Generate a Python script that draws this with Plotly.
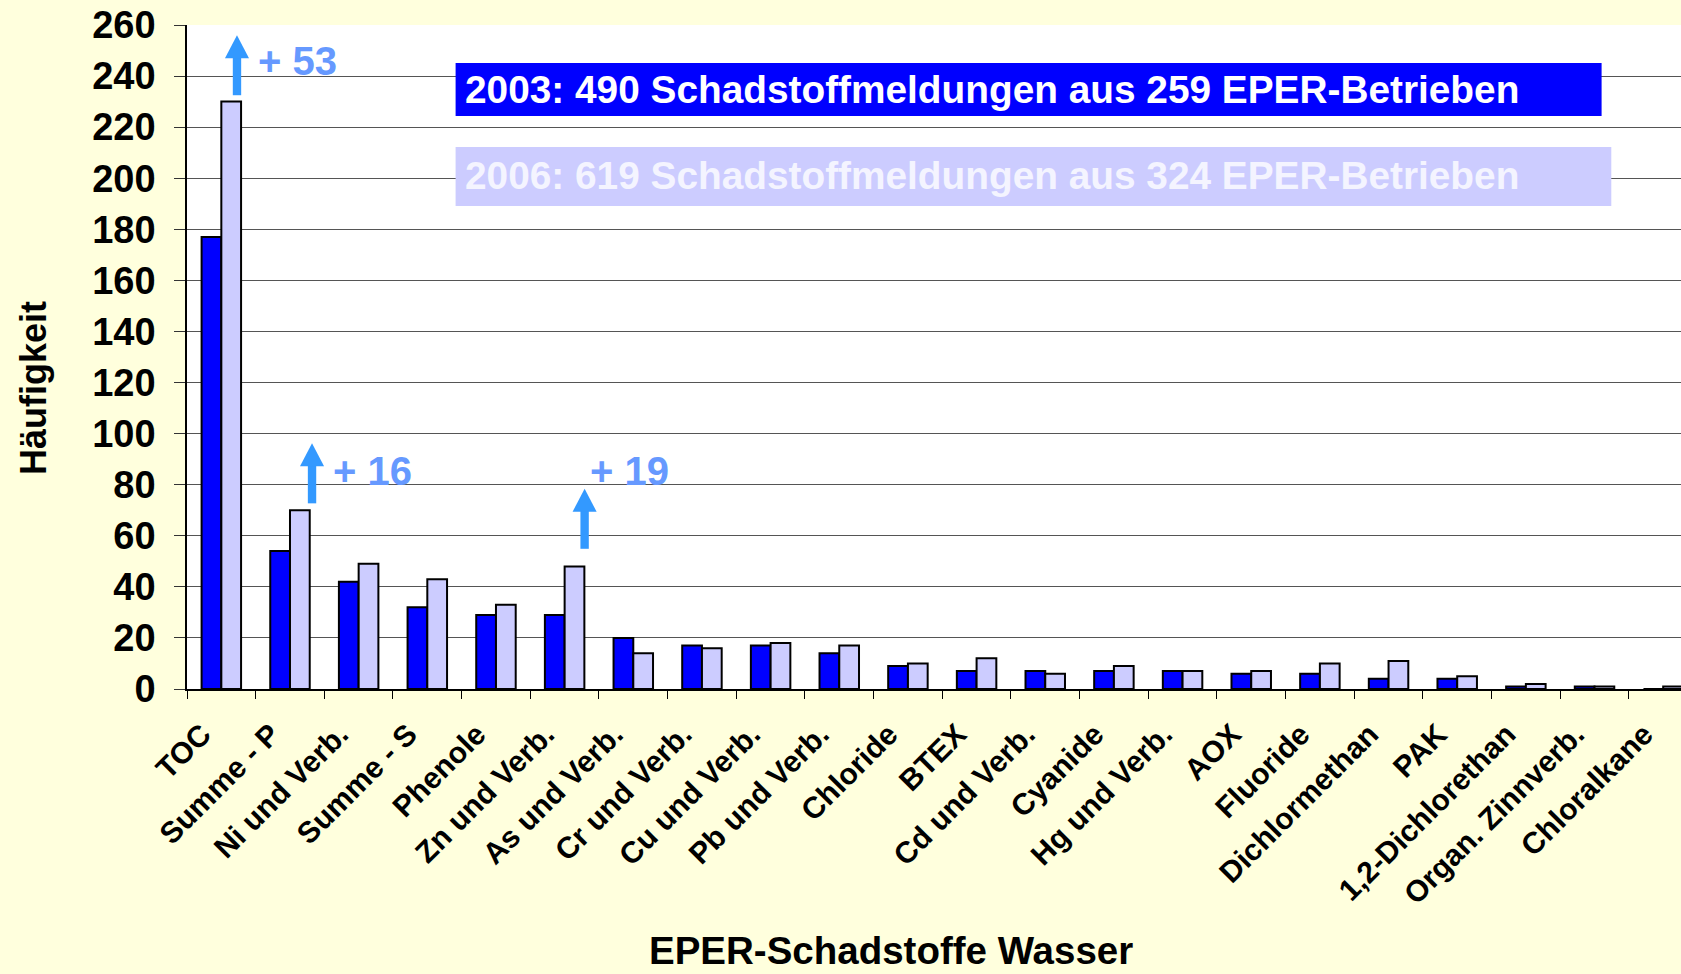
import plotly.graph_objects as go

# ---------------- data ----------------
categories = ["TOC", "Summe - P", "Ni und Verb.", "Summe - S", "Phenole", "Zn und Verb.",
              "As und Verb.", "Cr und Verb.", "Cu und Verb.", "Pb und Verb.", "Chloride",
              "BTEX", "Cd und Verb.", "Cyanide", "Hg und Verb.", "AOX", "Fluoride",
              "Dichlormethan", "PAK", "1,2-Dichlorethan", "Organ. Zinnverb.", "Chloralkane"]
values_2003 = [177, 54, 42, 32, 29, 29, 20, 17, 17, 14, 9, 7, 7, 7, 7, 6, 6, 4, 4, 1, 1, 0]
values_2006 = [230, 70, 49, 43, 33, 48, 14, 16, 18, 17, 10, 12, 6, 9, 7, 7, 10, 11, 5, 2, 1, 1]
y_ticks = list(range(0, 261, 20))
legend_2003 = "2003: 490 Schadstoffmeldungen aus 259 EPER-Betrieben"
legend_2006 = "2006: 619 Schadstoffmeldungen aus 324 EPER-Betrieben"
highlight = ["TOC", "Summe - P", "Zn und Verb."]

# ---------------- layout constants ----------------
W, H = 1681, 974
ML, MR, MT, MB = 187, 0, 25, 285
PW, PH = W - ML - MR, H - MT - MB
FONT = "Liberation Sans"
BLUE = "#0000FF"
LAV = "#CCCCFF"
ARROW = "#3399FF"
ATXT = "#6699FF"
BG = "#FFFFDD"


def px(x):
    return (x - ML) / PW


def py(y):
    return (H - MB - y) / PH


xs = list(range(len(categories)))

fig = go.Figure()
fig.add_bar(x=xs, y=values_2003, name="2003",
            marker=dict(color=BLUE, line=dict(color="black", width=2)))
fig.add_bar(x=xs, y=values_2006, name="2006",
            marker=dict(color=LAV, line=dict(color="black", width=2)))

# arrows + increase labels (style offsets per arrow)
arrow_style = {
    "TOC": dict(dx=0.228, gap=2.5, tdx=0.50, ty=245.8),
    "Summe - P": dict(dx=0.321, gap=2.7, tdx=0.60, ty=85.4),
    "Zn und Verb.": dict(dx=0.291, gap=6.9, tdx=0.335, ty=85.4),
}
shapes = []
annotations = []
for cat in highlight:
    i = categories.index(cat)
    st = arrow_style[cat]
    diff = values_2006[i] - values_2003[i]
    xc = i + st["dx"]
    y0 = values_2006[i] + st["gap"]
    ytop = y0 + 23.5
    yhead = ytop - 9.0
    sw, hw = 0.061, 0.175
    shapes.append(dict(type="rect", xref="x", yref="y", x0=xc - sw, x1=xc + sw,
                       y0=y0, y1=yhead + 0.5, fillcolor=ARROW, line=dict(width=0),
                       layer="above"))
    shapes.append(dict(type="path", xref="x", yref="y",
                       path=f"M {xc - hw},{yhead} L {xc + hw},{yhead} L {xc},{ytop} Z",
                       fillcolor=ARROW, line=dict(width=0), layer="above"))
    annotations.append(dict(x=i + st["tdx"], y=st["ty"], xref="x", yref="y",
                            text=f"+ {diff}", showarrow=False, xanchor="left",
                            yanchor="middle",
                            font=dict(family=FONT, size=40, color=ATXT, weight="bold")))

# legend boxes
shapes.append(dict(type="rect", xref="paper", yref="paper", x0=px(455.6), x1=px(1601.6),
                   y0=py(116), y1=py(63), fillcolor=BLUE, line=dict(width=0), layer="above"))
shapes.append(dict(type="rect", xref="paper", yref="paper", x0=px(455.6), x1=px(1611.3),
                   y0=py(206), y1=py(147), fillcolor=LAV, line=dict(width=0), layer="above"))
annotations.append(dict(x=px(463), y=py(89.5), xref="paper", yref="paper", text=legend_2003,
                        showarrow=False, xanchor="left", yanchor="middle",
                        font=dict(family=FONT, size=38.8, color="white", weight="bold")))
annotations.append(dict(x=px(463), y=py(175), xref="paper", yref="paper", text=legend_2006,
                        showarrow=False, xanchor="left", yanchor="middle",
                        font=dict(family=FONT, size=38.8, color="#F4F4FF", weight="bold")))

# axis titles
annotations.append(dict(x=px(33), y=py(388), xref="paper", yref="paper", text="Häufigkeit",
                        showarrow=False, textangle=-90, xanchor="center", yanchor="middle",
                        font=dict(family=FONT, size=36, color="black", weight="bold")))
annotations.append(dict(x=px(891), y=py(950), xref="paper", yref="paper",
                        text="EPER-Schadstoffe Wasser", showarrow=False,
                        xanchor="center", yanchor="middle",
                        font=dict(family=FONT, size=38.5, color="black", weight="bold")))

fig.update_layout(
    width=W, height=H,
    margin=dict(l=ML, r=MR, t=MT, b=MB, pad=0),
    paper_bgcolor=BG, plot_bgcolor="white",
    barmode="group", bargap=0.425, bargroupgap=0,
    showlegend=False,
    shapes=shapes, annotations=annotations,
    font=dict(family=FONT, color="black"),
)
fig.update_xaxes(
    range=[-0.5, -0.5 + PW / 68.66], tickmode="array", tickvals=xs, ticktext=categories,
    tickangle=-45, ticks="", showgrid=False, zeroline=False,
    showline=True, linecolor="black", linewidth=1.5,
    tickfont=dict(family=FONT, size=30, color="black", weight="bold"),
    ticklabelshift=-19, ticklabelstandoff=14,
    minor=dict(ticks="outside", ticklen=8, tickcolor="black", tickwidth=1,
               tick0=-0.5, dtick=1, showgrid=False),
)
fig.update_yaxes(
    range=[0, 260], tickmode="array", tickvals=y_ticks,
    ticks="outside", ticklen=11, tickcolor="#333333", tickwidth=1,
    showgrid=True, gridcolor="#555555", gridwidth=1, zeroline=False,
    showline=True, linecolor="black", linewidth=1.5,
    tickfont=dict(family=FONT, size=38, color="black", weight="bold"),
    ticklabelstandoff=11,
)

fig.write_html("out.html", config={"displayModeBar": False})
with open("out.html", "r", encoding="utf-8") as f:
    html = f.read()
html = html.replace("<head>", "<head><style>html,body{margin:0;padding:0;overflow:hidden;}</style>", 1)
with open("out.html", "w", encoding="utf-8") as f:
    f.write(html)
